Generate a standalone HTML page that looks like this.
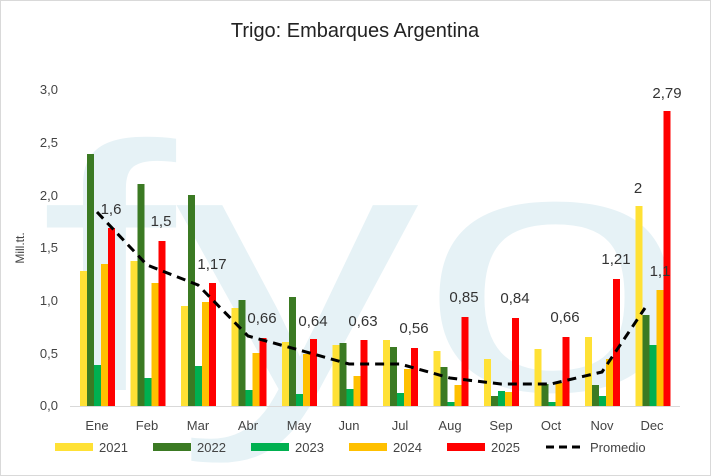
<!DOCTYPE html>
<html><head><meta charset="utf-8"><style>
body{margin:0;background:#fff}
svg{display:block;font-family:"Liberation Sans",sans-serif}
</style></head><body>
<svg width="711" height="476" viewBox="0 0 711 476">
<rect x="0.5" y="0.5" width="710" height="475" fill="#fff" stroke="#d9d9d9"/>
<text x="355" y="37" text-anchor="middle" font-size="20" fill="#222">Trigo: Embarques Argentina</text>
<text x="40" y="390" font-size="350" textLength="650" lengthAdjust="spacingAndGlyphs" fill="#e6f2f6">fyo</text>
<g font-size="13" fill="#444" text-anchor="end">
<text x="58" y="410">0,0</text><text x="58" y="358">0,5</text><text x="58" y="305">1,0</text><text x="58" y="252">1,5</text><text x="58" y="200">2,0</text><text x="58" y="147">2,5</text><text x="58" y="94">3,0</text>
</g>
<text transform="translate(24,248) rotate(-90)" text-anchor="middle" font-size="12" fill="#444">Mill.tt.</text>
<line x1="70" y1="406.5" x2="680" y2="406.5" stroke="#d9d9d9"/>
<g id="bars"></g>
<polyline fill="none" stroke="#000" stroke-width="3" stroke-dasharray="9,6" points="97,212 147,265 198,285 248,336 299,350 349,364 400,364 450,378 501,384 551,384 602,372 645,308"/>
<g font-size="15" fill="#333" text-anchor="middle">
<text x="111" y="214">1,6</text><text x="161" y="226">1,5</text><text x="212" y="269">1,17</text><text x="262" y="323">0,66</text><text x="313" y="326">0,64</text><text x="363" y="326">0,63</text><text x="414" y="333">0,56</text><text x="464" y="302">0,85</text><text x="515" y="303">0,84</text><text x="565" y="322">0,66</text><text x="616" y="264">1,21</text><text x="638" y="193">2</text><text x="660" y="276">1,1</text><text x="667" y="98">2,79</text>
</g>
<g font-size="13" fill="#444">
<rect x="55" y="443" width="38" height="8" fill="#ffe135"/><text x="99" y="452">2021</text>
<rect x="153" y="443" width="38" height="8" fill="#3b7a23"/><text x="197" y="452">2022</text>
<rect x="251" y="443" width="38" height="8" fill="#00b050"/><text x="295" y="452">2023</text>
<rect x="349" y="443" width="38" height="8" fill="#ffc000"/><text x="393" y="452">2024</text>
<rect x="447" y="443" width="38" height="8" fill="#ff0000"/><text x="491" y="452">2025</text>
<line x1="546" y1="447" x2="584" y2="447" stroke="#000" stroke-width="3" stroke-dasharray="8,5"/><text x="590" y="452">Promedio</text>
</g>
<g font-size="13" fill="#444" text-anchor="middle">
<text x="97" y="430">Ene</text><text x="147" y="430">Feb</text><text x="198" y="430">Mar</text><text x="248" y="430">Abr</text><text x="299" y="430">May</text><text x="349" y="430">Jun</text><text x="400" y="430">Jul</text><text x="450" y="430">Aug</text><text x="501" y="430">Sep</text><text x="551" y="430">Oct</text><text x="602" y="430">Nov</text><text x="652" y="430">Dec</text>
</g>
</svg>
<script>
var d=[[271,154,365,264,228],[261,184,378,283,241],[306,195,366,302,283],[308,300,390,353,338],[342,297,394,354,339],[345,343,389,376,340],[340,347,393,369,348],[351,367,402,385,317],[359,396,391,392,318],[349,384,402,383,337],[337,385,396,359,279],[206,315,345,290,111]];
var c=["#ffe135","#3b7a23","#00b050","#ffc000","#ff0000"];
var g=document.getElementById("bars"),s="";
d.forEach(function(r,i){var x0=80+i*50.5;r.forEach(function(t,j){s+='<rect x="'+(x0+j*7)+'" y="'+t+'" width="7" height="'+(406-t)+'" fill="'+c[j]+'"/>';});});
g.innerHTML=s;
</script>
</body></html>
